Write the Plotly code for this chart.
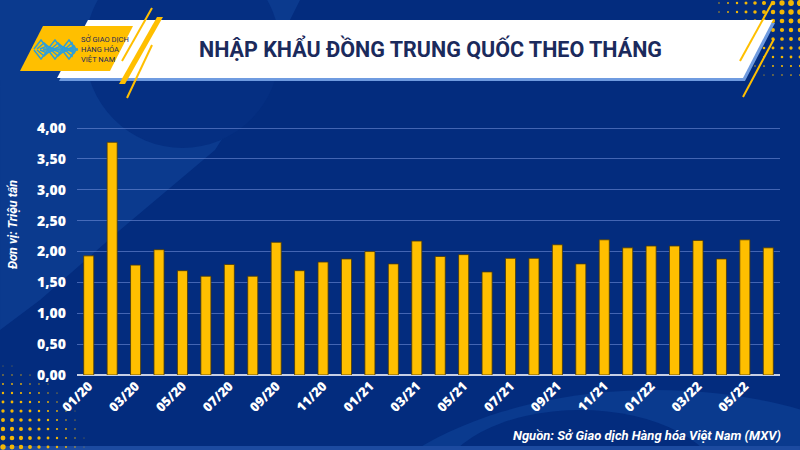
import math
import plotly.graph_objects as go

months = ["01/20", "02/20", "03/20", "04/20", "05/20", "06/20", "07/20", "08/20", "09/20", "10/20",
          "11/20", "12/20", "01/21", "02/21", "03/21", "04/21", "05/21", "06/21", "07/21", "08/21",
          "09/21", "10/21", "11/21", "12/21", "01/22", "02/22", "03/22", "04/22", "05/22", "06/22"]
imports = [1.93, 3.77, 1.78, 2.03, 1.69, 1.60, 1.79, 1.60, 2.15, 1.69,
           1.83, 1.88, 2.00, 1.80, 2.17, 1.92, 1.95, 1.67, 1.89, 1.89,
           2.11, 1.80, 2.19, 2.06, 2.09, 2.09, 2.18, 1.88, 2.19, 2.06]
tickMonths = months[::2]
yTicks = [0, 0.5, 1.0, 1.5, 2.0, 2.5, 3.0, 3.5, 4.0]

W, H = 800, 450
L, R, T, B = 77, 20, 125, 75
PW, PH = W - L - R, H - T - B

BG = "#032c7e"
YELLOW = "#ffbf00"
NAVY = "#1b2a5c"


def px(x):
    return (x - L) / PW


def py(y):
    return (H - B - y) / PH


def poly(points):
    return "M " + " L ".join(f"{px(x):.4f},{py(y):.4f}" for x, y in points) + " Z"


def polyShape(points, color, layer="below"):
    return dict(type="path", xref="paper", yref="paper", path=poly(points),
                fillcolor=color, line=dict(width=0), layer=layer)


def lineShape(x0, y0, x1, y1, color, width):
    return dict(type="line", xref="paper", yref="paper",
                x0=px(x0), y0=py(y0), x1=px(x1), y1=py(y1),
                line=dict(color=color, width=width), layer="below")


def dot(cx, cy, r):
    return dict(type="circle", xref="paper", yref="paper",
                x0=px(cx - r), x1=px(cx + r), y0=py(cy + r), y1=py(cy - r),
                fillcolor="#f2b705", line=dict(width=0), layer="below")


shapes = []

# background waves
shapes.append(polyShape([(0, 0), (300, 0), (260, 80), (215, 150), (120, 230), (40, 300), (0, 330)], "#0b3a8e"))
shapes.append(dict(type="circle", xref="paper", yref="paper",
                   x0=px(85), x1=px(280), y0=py(148), y1=py(-50),
                   fillcolor="#052f82", line=dict(width=0), layer="below"))
shapes.append(dict(type="circle", xref="paper", yref="paper",
                   x0=px(330), x1=px(980), y0=py(760), y1=py(390),
                   fillcolor="#0a3a8e", line=dict(width=0), layer="below"))
shapes.append(dict(type="circle", xref="paper", yref="paper",
                   x0=px(440), x1=px(720), y0=py(560), y1=py(410),
                   fillcolor="#032c7e", line=dict(width=0), layer="below"))
shapes.append(polyShape([(0, 446), (800, 446), (800, 450), (0, 450)], "#1c4aa0"))

# dots top right
for i in range(13):
    for j in range(9):
        cx = 800 - i * 9
        cy = 3 + j * 9
        d = math.hypot(800 - cx, cy)
        r = 3.2 - d / 32
        if r > 0.4:
            shapes.append(dot(cx, cy, r))

# dots bottom left
for i in range(11):
    for j in range(10):
        cx = 3 + i * 9
        cy = 447 - j * 9
        d = math.hypot(cx, 450 - cy)
        r = 2.8 - d / 36
        if r > 0.4:
            shapes.append(dot(cx, cy, r))

# banner
shapes.append(polyShape([(89, 23), (775, 23), (745, 81), (59, 81)], "#6f9be0"))
shapes.append(polyShape([(88, 20), (773, 20), (743, 78), (57, 78)], "white"))
shapes.append(polyShape([(43, 26), (133, 26), (110, 71), (20, 71)], YELLOW))
shapes.append(polyShape([(157, 17), (163, 17), (125, 84), (119, 84)], YELLOW))
shapes.append(lineShape(152, 8, 122, 61, YELLOW, 2))
shapes.append(lineShape(152, 45, 127, 98, YELLOW, 2))
shapes.append(lineShape(772, 3, 740, 61, YELLOW, 2))
shapes.append(lineShape(774, 39, 743, 97, YELLOW, 2))

# logo chevrons
for k in range(4):
    off = k * 3
    shapes.append(dict(type="path", xref="paper", yref="paper",
                       path="M " + " L ".join(f"{px(x):.4f},{py(y):.4f}" for x, y in
                                              [(34 + off, 49), (41 + off, 40 + off), (48 + off, 49),
                                               (55 + off, 40 + off), (62 + off, 49), (69 + off, 40 + off), (76 - off, 49)]),
                       line=dict(color="#2f9fd8", width=1.5), layer="below"))
    shapes.append(dict(type="path", xref="paper", yref="paper",
                       path="M " + " L ".join(f"{px(x):.4f},{py(y):.4f}" for x, y in
                                              [(34 + off, 50), (41 + off, 59 - off), (48 + off, 50),
                                               (55 + off, 59 - off), (62 + off, 50), (69 + off, 59 - off), (76 - off, 50)]),
                       line=dict(color="#2f9fd8", width=1.5), layer="below"))

fig = go.Figure()
fig.add_trace(go.Bar(
    x=months, y=imports,
    marker=dict(color=YELLOW, line=dict(color="#4a3a0a", width=0.8)),
    hoverinfo="x+y",
))

annotations = [
    dict(text="<b>NHẬP KHẨU ĐỒNG TRUNG QUỐC THEO THÁNG</b>", xref="paper", yref="paper",
         x=px(430), y=py(49), xanchor="center", yanchor="middle", showarrow=False,
         font=dict(family="Roboto", size=21.5, color=NAVY)),
    dict(text="SỞ GIAO DỊCH<br>HÀNG HÓA<br>VIỆT NAM", xref="paper", yref="paper",
         x=px(79), y=py(49), xanchor="left", yanchor="middle", showarrow=False, align="left",
         font=dict(family="Roboto", size=7.5, color=NAVY)),
    dict(text="<b><i>Đơn vị: Triệu tấn</i></b>", xref="paper", yref="paper",
         x=px(12), y=py(225), xanchor="center", yanchor="middle", showarrow=False, textangle=-90,
         font=dict(family="Roboto", size=12.5, color="white")),
    dict(text="<b><i>Nguồn: Sở Giao dịch Hàng hóa Việt Nam (MXV)</i></b>", xref="paper", yref="paper",
         x=px(783), y=py(435), xanchor="right", yanchor="middle", showarrow=False,
         font=dict(family="Roboto", size=13, color="white")),
]

fig.update_layout(
    width=W, height=H,
    margin=dict(l=L, r=R, t=T, b=B),
    paper_bgcolor=BG, plot_bgcolor="rgba(0,0,0,0)",
    separators=",.",
    bargap=0.57,
    showlegend=False,
    shapes=shapes,
    annotations=annotations,
    font=dict(family="Roboto", color="white"),
)
fig.update_xaxes(
    type="category", tickmode="array", tickvals=tickMonths, ticktext=tickMonths,
    tickangle=-45, tickfont=dict(family="Open Sans", size=13, color="white", weight=800),
    showgrid=False, showline=False, ticks="", range=[-0.5, len(months) - 0.5],
)
fig.update_yaxes(
    range=[0, 4.05], tickvals=yTicks, tickformat=".2f",
    tickfont=dict(family="Open Sans", size=14, color="white", weight=800),
    gridcolor="rgba(110,140,215,0.6)", gridwidth=1,
    zeroline=True, zerolinecolor="#c7cfe4", zerolinewidth=2,
    ticks="", ticklabelstandoff=10,
)

fig.write_html("out.html", config={"displayModeBar": False},
               post_script="document.body.style.margin='0';")
